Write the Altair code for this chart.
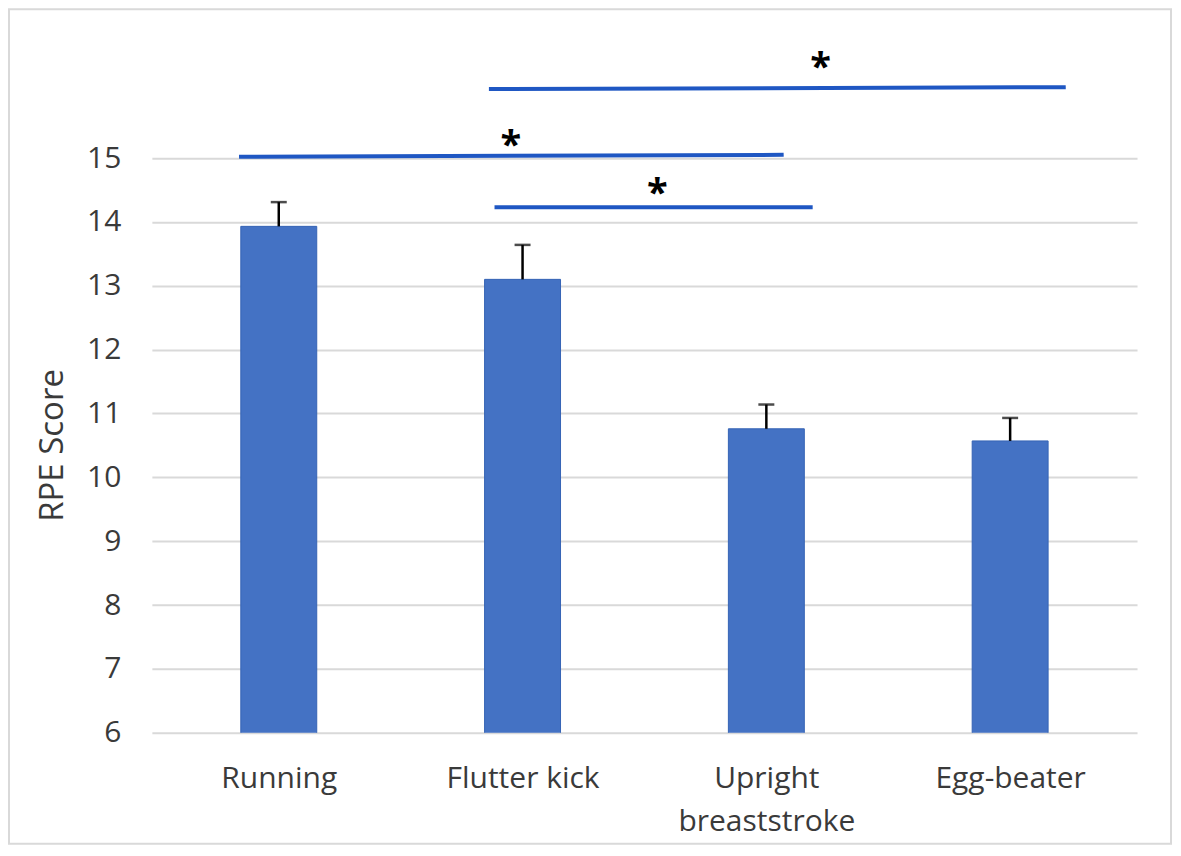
import json
import altair as alt
import pandas as pd

# ---- data ----
categories = ["Running", "Flutter kick", "Upright breaststroke", "Egg-beater"]
tick_labels = ["Running", "Flutter kick", ["Upright", "breaststroke"], "Egg-beater"]
rpe_mean = [13.93, 13.10, 10.76, 10.57]
rpe_se = [0.38, 0.54, 0.38, 0.36]
y_ticks = [6, 7, 8, 9, 10, 11, 12, 13, 14, 15]

# significance brackets (x in category units, y in RPE units)
sig_x_start = [0.337, 1.385, 1.362]
sig_x_end = [2.571, 2.690, 3.728]
sig_y_start = [15.02, 14.23, 16.08]
sig_y_end = [15.05, 14.23, 16.11]
star_x = [1.452, 2.053, 2.722]
star_y = [15.33, 14.58, 16.55]
star_text = ["*", "*", "*"]

FONT = "Open Sans"
TEXT_COLOR = "#3a3a3a"
BAR_COLOR = "#4472C4"
SIG_COLOR = "#1F57C3"

bars = pd.DataFrame({
    "category": categories,
    "pos": [i + 0.5 for i in range(len(categories))],
    "mean": rpe_mean,
    "upper": [m + s for m, s in zip(rpe_mean, rpe_se)],
})
sig = pd.DataFrame({"x1": sig_x_start, "x2": sig_x_end, "y1": sig_y_start, "y2": sig_y_end})
stars = pd.DataFrame({"x": star_x, "y": star_y, "t": star_text})

xscale = alt.Scale(domain=[0, len(categories)], nice=False, zero=False)
yscale = alt.Scale(domain=[6, 17], nice=False, zero=False)

label_expr = json.dumps(tick_labels) + "[floor(datum.value)]"

x_axis = alt.Axis(
    values=[i + 0.5 for i in range(len(categories))],
    labelExpr=label_expr,
    labelFontSize=30, labelColor=TEXT_COLOR, labelFont=FONT,
    labelPadding=31, labelLineHeight=43,
    labelFlush=False, labelOverlap=False,
    ticks=False, tickSize=0, domain=False, grid=False, title=None,
)
y_axis = alt.Axis(
    values=y_ticks,
    labelFontSize=30, labelColor=TEXT_COLOR, labelFont=FONT,
    labelPadding=31, ticks=False, tickSize=0, domain=False,
    grid=True, gridColor="#D9D9D9", gridWidth=2,
    title="RPE Score", titleFontSize=33, titleFont=FONT, titleFontWeight="normal",
    titleColor=TEXT_COLOR, titleX=-89, titleY=415, titleAngle=270,
    titleBaseline="alphabetic", titleAlign="center",
)

# outer border of the chart box (pure decoration, pixel offsets from the plot area)
frame = alt.Chart(alt.Data(values=[{"a": 1}])).mark_rect(
    fill="white", fillOpacity=0, stroke="#D9D9D9", strokeWidth=2
).encode(
    x=alt.value(-143), x2=alt.value(1020), y=alt.value(-21), y2=alt.value(814)
)

bar_layer = alt.Chart(bars).mark_bar(
    size=76, clip=True, color=BAR_COLOR, stroke="#3563B5", strokeWidth=1, orient="vertical"
).encode(
    x=alt.X("pos:Q", scale=xscale, axis=x_axis),
    y=alt.Y("mean:Q", scale=yscale, axis=y_axis),
)

err_rule = alt.Chart(bars).mark_rule(color="black", strokeWidth=2.5).encode(
    x=alt.X("pos:Q", scale=xscale, axis=x_axis),
    y=alt.Y("mean:Q", scale=yscale, axis=y_axis),
    y2="upper:Q",
)
err_cap = alt.Chart(bars).mark_tick(
    orient="horizontal", size=16, thickness=2.5, color="black"
).encode(
    x=alt.X("pos:Q", scale=xscale, axis=x_axis),
    y=alt.Y("upper:Q", scale=yscale, axis=y_axis),
)

sig_layer = alt.Chart(sig).mark_rule(color=SIG_COLOR, strokeWidth=4).encode(
    x=alt.X("x1:Q", scale=xscale, axis=x_axis),
    x2="x2:Q",
    y=alt.Y("y1:Q", scale=yscale, axis=y_axis),
    y2="y2:Q",
)

star_layer = alt.Chart(stars).mark_text(
    fontSize=38, fontWeight="bold", baseline="alphabetic", dy=21, font=FONT, color="black"
).encode(
    x=alt.X("x:Q", scale=xscale, axis=x_axis),
    y=alt.Y("y:Q", scale=yscale, axis=y_axis),
    text="t:N",
)

chart = alt.layer(
    bar_layer, frame, err_rule, err_cap, sig_layer, star_layer
).properties(
    width=986, height=703,
    padding={"left": 144, "top": 22, "right": 36, "bottom": 114},
    autosize=alt.AutoSizeParams(type="none"),
).configure(font=FONT, background="white").configure_view(stroke="transparent")

chart.save("out.html", embed_options={"renderer": "svg", "actions": False})
